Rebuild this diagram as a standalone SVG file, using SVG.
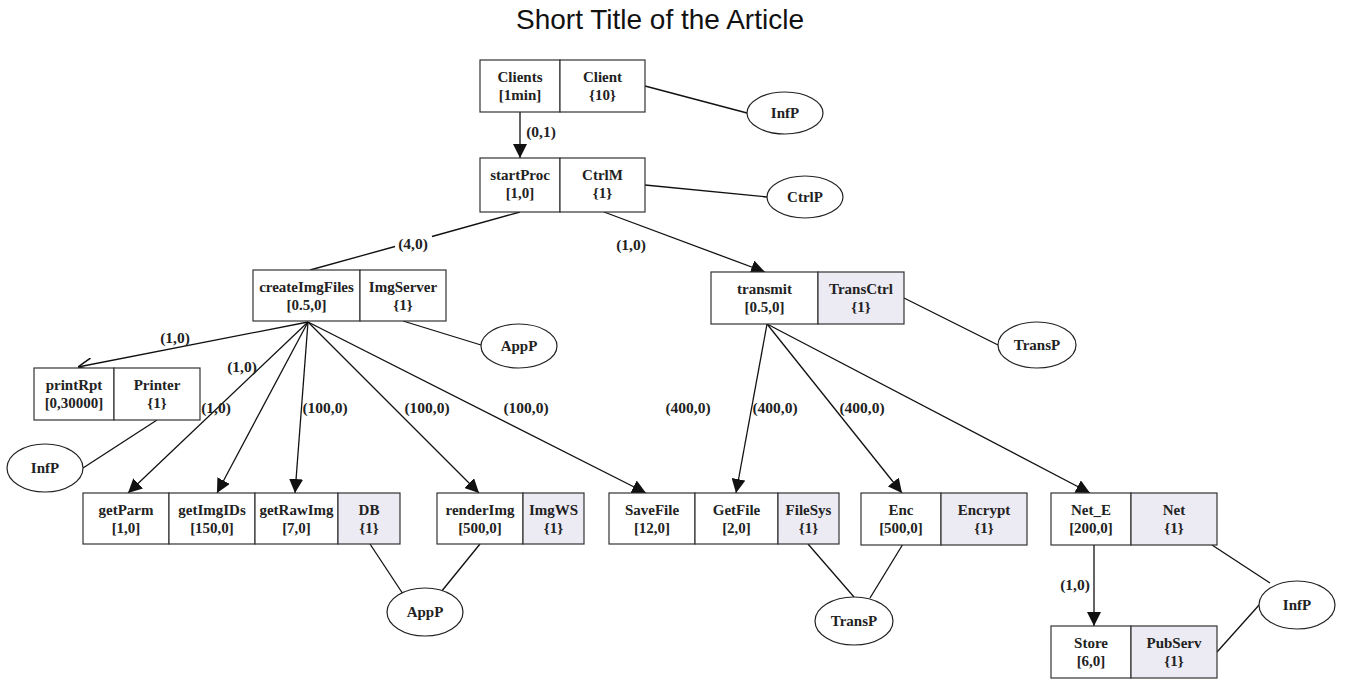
<svg xmlns="http://www.w3.org/2000/svg" width="1347" height="680" viewBox="0 0 1347 680">
  <style>
    .cell { fill: #ffffff; stroke: #333333; stroke-width: 1.2; }
    .res { fill: #ECEAF2; stroke: #333333; stroke-width: 1.2; }
    .proc { fill: #ffffff; stroke: #222222; stroke-width: 1.2; }
    .t { font-family: "Liberation Serif", "Times New Roman", serif; font-weight: bold; font-size: 15px; fill: #222222; text-anchor: middle; }
    .lbl { font-family: "Liberation Serif", "Times New Roman", serif; font-weight: bold; font-size: 15.5px; fill: #222222; text-anchor: middle; }
    .title { font-family: "Liberation Sans", Arial, sans-serif; font-size: 28px; fill: #111111; text-anchor: middle; }
    .edge { fill: none; stroke: #111111; stroke-width: 1.3; }
  </style>
  <defs>
    <marker id="arrow" markerUnits="userSpaceOnUse" markerWidth="14" markerHeight="14" viewBox="0 0 12 12" refX="12" refY="6" orient="auto">
      <path d="M0,0 L12,6 L0,12 Z" fill="#111111"/>
    </marker>
    <marker id="open" markerUnits="userSpaceOnUse" markerWidth="14" markerHeight="14" viewBox="0 0 12 12" refX="12" refY="6" orient="auto">
      <path d="M0,0.5 L12,6 L0,11.5" fill="none" stroke="#111111" stroke-width="1.3"/>
    </marker>
  </defs>

  <rect width="1347" height="680" fill="#ffffff"/>
  <text class="title" x="660" y="29">Short Title of the Article</text>

  <!-- connectors -->
  <g id="connectors">
    <!-- call edges -->
    <line class="edge" x1="520" y1="112" x2="520" y2="158" marker-end="url(#arrow)"/>
    <path class="edge" d="M520,212 L432,236.5 M395,246.5 L310,270"/>
    <line class="edge" x1="604" y1="212" x2="765" y2="272" marker-end="url(#arrow)"/>
    <line class="edge" x1="308" y1="322" x2="78" y2="367" marker-end="url(#open)"/>
    <line class="edge" x1="308" y1="322" x2="128" y2="493" marker-end="url(#arrow)"/>
    <line class="edge" x1="308" y1="322" x2="217" y2="493" marker-end="url(#arrow)"/>
    <line class="edge" x1="308" y1="322" x2="295" y2="493" marker-end="url(#arrow)"/>
    <line class="edge" x1="308" y1="322" x2="479" y2="493" marker-end="url(#arrow)"/>
    <line class="edge" x1="308" y1="322" x2="646" y2="493" marker-end="url(#arrow)"/>
    <line class="edge" x1="767" y1="324" x2="736" y2="493" marker-end="url(#arrow)"/>
    <line class="edge" x1="767" y1="324" x2="902" y2="493" marker-end="url(#arrow)"/>
    <line class="edge" x1="767" y1="324" x2="1090" y2="493" marker-end="url(#arrow)"/>
    <line class="edge" x1="1094" y1="545" x2="1094" y2="626" marker-end="url(#arrow)"/>

    <!-- processor links -->
    <line class="edge" x1="645" y1="86" x2="747" y2="113"/>
    <line class="edge" x1="645" y1="185" x2="767" y2="197"/>
    <line class="edge" x1="403" y1="321" x2="481" y2="345"/>
    <line class="edge" x1="904" y1="298" x2="998" y2="345"/>
    <line class="edge" x1="157" y1="420" x2="83" y2="468"/>
    <line class="edge" x1="370" y1="544" x2="403" y2="594"/>
    <line class="edge" x1="480" y1="544" x2="441" y2="592"/>
    <line class="edge" x1="808" y1="544" x2="854" y2="597"/>
    <line class="edge" x1="903" y1="544" x2="870" y2="598"/>
    <line class="edge" x1="1212" y1="545" x2="1270" y2="583"/>
    <line class="edge" x1="1217" y1="652" x2="1260" y2="604"/>

    <!-- edge labels -->
    <text class="lbl" x="541" y="137">(0,1)</text>
    <text class="lbl" x="413" y="249">(4,0)</text>
    <text class="lbl" x="631" y="250">(1,0)</text>
    <text class="lbl" x="175" y="343">(1,0)</text>
    <text class="lbl" x="242" y="372">(1,0)</text>
    <text class="lbl" x="216" y="413">(1,0)</text>
    <text class="lbl" x="325" y="413">(100,0)</text>
    <text class="lbl" x="427" y="413">(100,0)</text>
    <text class="lbl" x="526" y="413">(100,0)</text>
    <text class="lbl" x="688" y="413">(400,0)</text>
    <text class="lbl" x="775" y="413">(400,0)</text>
    <text class="lbl" x="862" y="413">(400,0)</text>
    <text class="lbl" x="1075" y="590">(1,0)</text>
  </g>

  <!-- tasks and hosts -->
  <g id="clients">
    <rect class="cell" x="480" y="60" width="80" height="52"/>
    <rect class="cell" x="560" y="60" width="85" height="52"/>
    <text class="t" x="520" y="82">Clients</text>
    <text class="t" x="520" y="100">[1min]</text>
    <text class="t" x="602.5" y="82">Client</text>
    <text class="t" x="602.5" y="100">{10}</text>
  </g>

  <g id="startProc">
    <rect class="cell" x="480" y="158" width="80" height="54"/>
    <rect class="cell" x="560" y="158" width="85" height="54"/>
    <text class="t" x="520" y="180">startProc</text>
    <text class="t" x="520" y="198">[1,0]</text>
    <text class="t" x="602.5" y="180">CtrlM</text>
    <text class="t" x="602.5" y="198">{1}</text>
  </g>

  <g id="createImgFiles">
    <rect class="cell" x="253" y="270" width="107" height="51"/>
    <rect class="cell" x="360" y="270" width="86" height="51"/>
    <text class="t" x="306.5" y="292">createImgFiles</text>
    <text class="t" x="306.5" y="310">[0.5,0]</text>
    <text class="t" x="403" y="292">ImgServer</text>
    <text class="t" x="403" y="310">{1}</text>
  </g>

  <g id="transmit">
    <rect class="cell" x="711" y="272" width="107" height="52"/>
    <rect class="res" x="818" y="272" width="86" height="52"/>
    <text class="t" x="764.5" y="294">transmit</text>
    <text class="t" x="764.5" y="312">[0.5,0]</text>
    <text class="t" x="861" y="294">TransCtrl</text>
    <text class="t" x="861" y="312">{1}</text>
  </g>

  <g id="printRpt">
    <rect class="cell" x="34" y="368" width="80" height="52"/>
    <rect class="cell" x="114" y="368" width="86" height="52"/>
    <text class="t" x="74" y="390">printRpt</text>
    <text class="t" x="74" y="408">[0,30000]</text>
    <text class="t" x="157" y="390">Printer</text>
    <text class="t" x="157" y="408">{1}</text>
  </g>

  <g id="db">
    <rect class="cell" x="83" y="493" width="86" height="51"/>
    <rect class="cell" x="169" y="493" width="86" height="51"/>
    <rect class="cell" x="255" y="493" width="83" height="51"/>
    <rect class="res" x="338" y="493" width="62" height="51"/>
    <text class="t" x="126" y="515">getParm</text>
    <text class="t" x="126" y="533">[1,0]</text>
    <text class="t" x="212" y="515">getImgIDs</text>
    <text class="t" x="212" y="533">[150,0]</text>
    <text class="t" x="296.5" y="515">getRawImg</text>
    <text class="t" x="296.5" y="533">[7,0]</text>
    <text class="t" x="369" y="515">DB</text>
    <text class="t" x="369" y="533">{1}</text>
  </g>

  <g id="imgWS">
    <rect class="cell" x="437" y="493" width="86" height="51"/>
    <rect class="res" x="523" y="493" width="61" height="51"/>
    <text class="t" x="480" y="515">renderImg</text>
    <text class="t" x="480" y="533">[500,0]</text>
    <text class="t" x="553.5" y="515">ImgWS</text>
    <text class="t" x="553.5" y="533">{1}</text>
  </g>

  <g id="fileSys">
    <rect class="cell" x="609" y="493" width="86" height="51"/>
    <rect class="cell" x="695" y="493" width="83" height="51"/>
    <rect class="res" x="778" y="493" width="61" height="51"/>
    <text class="t" x="652" y="515">SaveFile</text>
    <text class="t" x="652" y="533">[12,0]</text>
    <text class="t" x="736.5" y="515">GetFile</text>
    <text class="t" x="736.5" y="533">[2,0]</text>
    <text class="t" x="808.5" y="515">FileSys</text>
    <text class="t" x="808.5" y="533">{1}</text>
  </g>

  <g id="encrypt">
    <rect class="cell" x="861" y="493" width="80" height="52"/>
    <rect class="res" x="941" y="493" width="86" height="52"/>
    <text class="t" x="901" y="515">Enc</text>
    <text class="t" x="901" y="533">[500,0]</text>
    <text class="t" x="984" y="515">Encrypt</text>
    <text class="t" x="984" y="533">{1}</text>
  </g>

  <g id="net">
    <rect class="cell" x="1051" y="493" width="80" height="52"/>
    <rect class="res" x="1131" y="493" width="86" height="52"/>
    <text class="t" x="1091" y="515">Net_E</text>
    <text class="t" x="1091" y="533">[200,0]</text>
    <text class="t" x="1174" y="515">Net</text>
    <text class="t" x="1174" y="533">{1}</text>
  </g>

  <g id="pubServ">
    <rect class="cell" x="1051" y="626" width="80" height="52"/>
    <rect class="res" x="1131" y="626" width="86" height="52"/>
    <text class="t" x="1091" y="648">Store</text>
    <text class="t" x="1091" y="666">[6,0]</text>
    <text class="t" x="1174" y="648">PubServ</text>
    <text class="t" x="1174" y="666">{1}</text>
  </g>

  <!-- processors -->
  <g id="infP-top">
    <ellipse class="proc" cx="785" cy="113" rx="38" ry="21"/>
    <text class="t" x="785" y="118">InfP</text>
  </g>
  <g id="ctrlP">
    <ellipse class="proc" cx="805" cy="197" rx="38" ry="21"/>
    <text class="t" x="805" y="202">CtrlP</text>
  </g>
  <g id="appP-top">
    <ellipse class="proc" cx="519" cy="346" rx="38" ry="22"/>
    <text class="t" x="519" y="351">AppP</text>
  </g>
  <g id="transP-top">
    <ellipse class="proc" cx="1037" cy="345" rx="39" ry="23"/>
    <text class="t" x="1037" y="350">TransP</text>
  </g>
  <g id="infP-left">
    <ellipse class="proc" cx="45" cy="468" rx="38" ry="24"/>
    <text class="t" x="45" y="473">InfP</text>
  </g>
  <g id="appP-bottom">
    <ellipse class="proc" cx="425" cy="612" rx="38" ry="24"/>
    <text class="t" x="425" y="617">AppP</text>
  </g>
  <g id="transP-bottom">
    <ellipse class="proc" cx="854" cy="621" rx="39" ry="24"/>
    <text class="t" x="854" y="626">TransP</text>
  </g>
  <g id="infP-right">
    <ellipse class="proc" cx="1297" cy="605" rx="38" ry="24"/>
    <text class="t" x="1297" y="610">InfP</text>
  </g>
</svg>
